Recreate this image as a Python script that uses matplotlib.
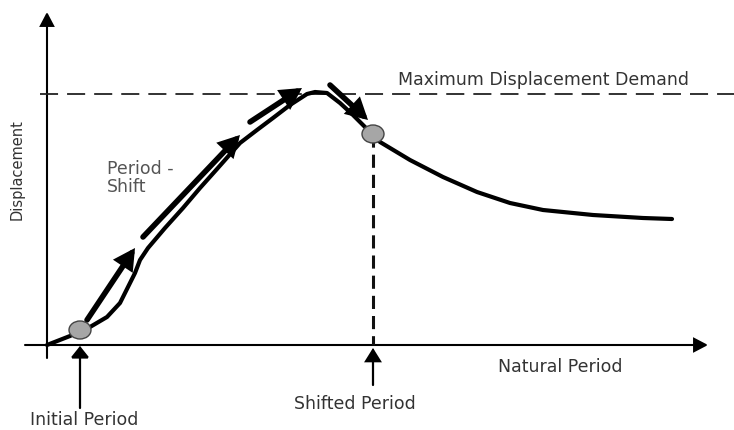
"""
Period-shift sketch: displacement spectrum with max displacement demand.
"""
import matplotlib
matplotlib.use("Agg")
import matplotlib.pyplot as plt
from matplotlib.patches import Ellipse

# displacement spectrum (natural period, displacement), arbitrary units
curve_t = [0.00, 0.23, 0.33, 0.43, 0.60, 0.73, 0.81, 0.88, 0.93, 1.01, 1.18,
           1.36, 1.53, 1.70, 1.93, 2.10, 2.26, 2.43, 2.60, 2.68, 2.80, 2.93,
           3.06, 3.16, 3.26, 3.33, 3.63, 3.96, 4.30, 4.63, 4.96, 5.46, 5.96,
           6.25]
curve_d = [0.00, 0.09, 0.14, 0.18, 0.28, 0.42, 0.58, 0.72, 0.85, 0.97, 1.17,
           1.37, 1.57, 1.76, 2.02, 2.15, 2.27, 2.40, 2.51, 2.53, 2.52, 2.42,
           2.30, 2.20, 2.10, 2.03, 1.85, 1.68, 1.53, 1.42, 1.35, 1.30, 1.27,
           1.26]

max_demand = 2.51
initial_period = 0.33
initial_disp = 0.15
shifted_period = 3.26
shifted_disp = 2.11

# period-shift path segments (start t, start d, tip t, tip d)
shift_start_t = [0.40, 0.96, 2.03, 2.83]
shift_start_d = [0.25, 1.08, 2.23, 2.60]
shift_tip_t = [0.88, 1.93, 2.55, 3.21]
shift_tip_d = [0.97, 2.10, 2.57, 2.25]

TXT = "#333333"
FONT = "DejaVu Sans"
FS = 12.5


def arrow(xy, xytext, lw, hw, hl, zorder=2):
    ax.annotate("", xy=xy, xytext=xytext, zorder=zorder,
                arrowprops=dict(arrowstyle=f"-|>,head_width={hw},head_length={hl}",
                                lw=lw, color="black", shrinkA=0, shrinkB=0,
                                mutation_scale=20, joinstyle="miter"))


fig = plt.figure(figsize=(7.34, 4.30), dpi=100, facecolor="white")
ax = fig.add_axes([0, 0, 1, 1])
ax.set_xlim(-0.47, 6.87)
ax.set_ylim(-0.85, 3.45)
ax.set_axis_off()

# axes with arrow heads
arrow((0, 3.33), (0, -0.13), 1.5, 0.22, 0.42)
arrow((6.61, 0), (-0.22, 0), 1.5, 0.22, 0.42)

# maximum displacement demand
ax.plot([-0.07, 6.87], [max_demand, max_demand], color="#222222", lw=1.3,
        dashes=(10, 5))
ax.text(4.96, max_demand + 0.14, "Maximum Displacement Demand", ha="center",
        va="center", fontsize=FS, color=TXT, family=FONT)

# shifted period marker
ax.plot([shifted_period, shifted_period], [shifted_disp, 0], color="#111111",
        lw=2.2, dashes=(4.3, 2.3))

# spectrum
ax.plot(curve_t, curve_d, color="black", lw=3.0, solid_capstyle="round",
        solid_joinstyle="round", zorder=3)

# period-shift arrows
for t0, d0, t1, d1 in zip(shift_start_t, shift_start_d, shift_tip_t, shift_tip_d):
    arrow((t1, d1), (t0, d0), 4.0, 0.26, 0.48, zorder=4)

# period points
for t, d in [(initial_period, initial_disp), (shifted_period, shifted_disp)]:
    ax.add_patch(Ellipse((t, d), 0.22, 0.18, facecolor="#a6a6a6",
                         edgecolor="#444444", lw=1.0, zorder=5))

# period pointers
arrow((initial_period, -0.01), (initial_period, -0.63), 1.6, 0.28, 0.35)
arrow((shifted_period, -0.03), (shifted_period, -0.40), 1.6, 0.25, 0.4)

ax.text(0.37, -0.75, "Initial Period", ha="center", va="center",
        fontsize=FS, color=TXT, family=FONT)
ax.text(3.08, -0.59, "Shifted Period", ha="center", va="center",
        fontsize=FS, color=TXT, family=FONT)
ax.text(5.13, -0.22, "Natural Period", ha="center", va="center",
        fontsize=FS, color=TXT, family=FONT)
ax.text(0.60, 1.67, "Period -\nShift", ha="left", va="center",
        fontsize=FS, color="#555555", family=FONT, linespacing=0.95)
ax.text(-0.30, 1.75, "Displacement", ha="center", va="center", rotation=90,
        fontsize=10.5, color=TXT, family=FONT)

fig.savefig("out.png", dpi=100, facecolor="white")
